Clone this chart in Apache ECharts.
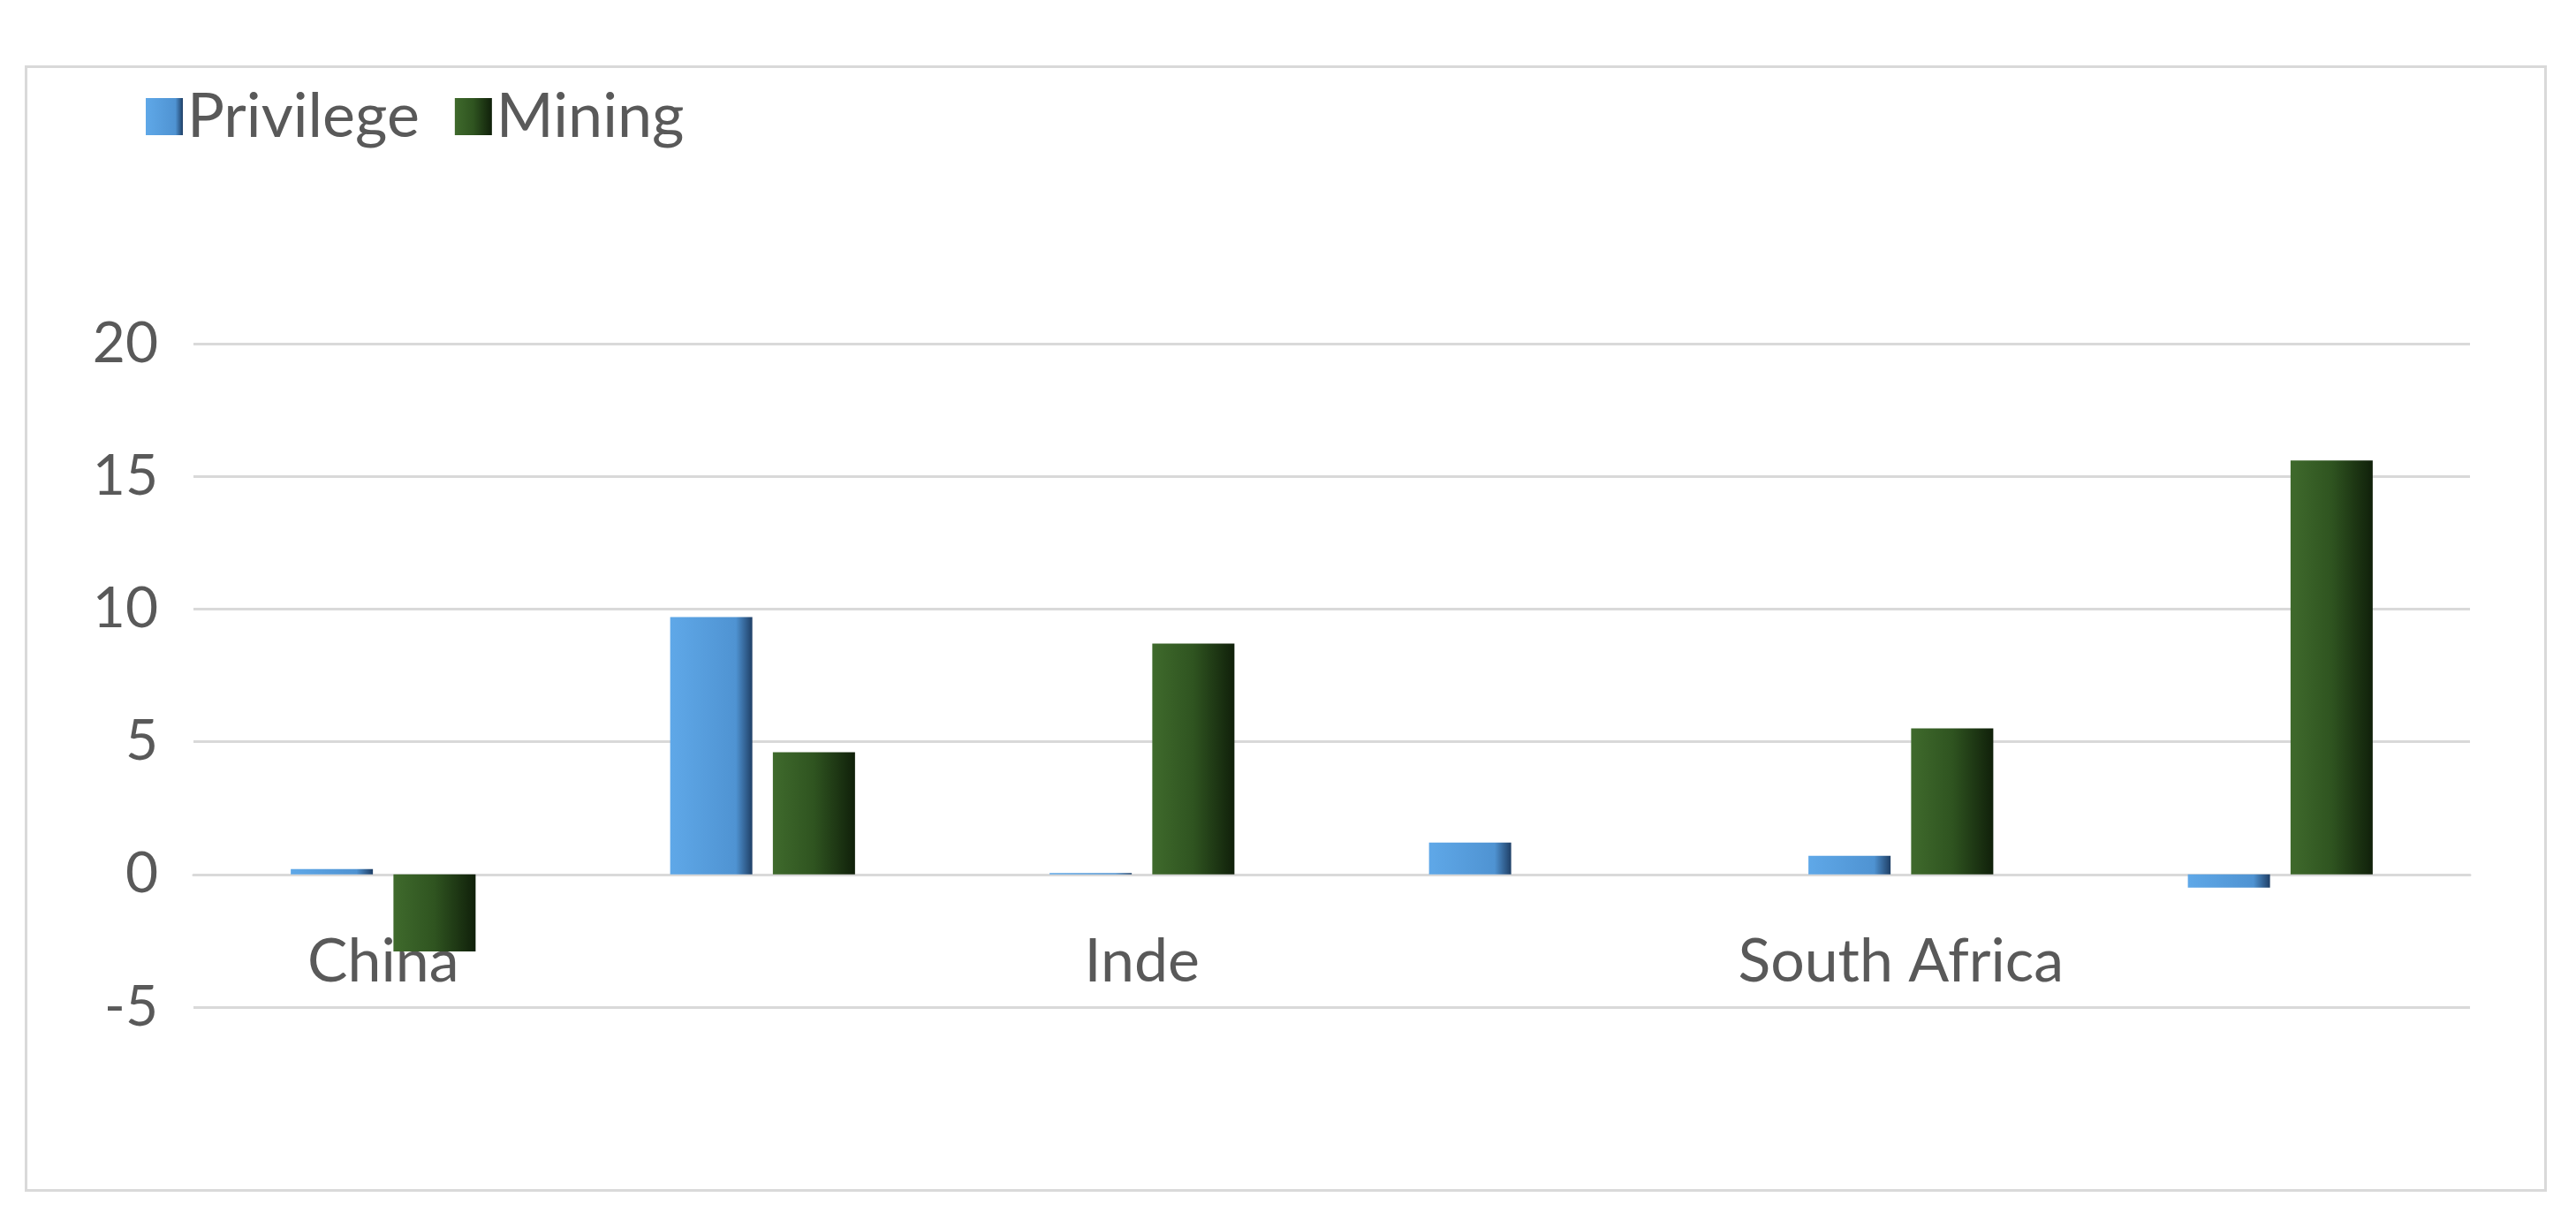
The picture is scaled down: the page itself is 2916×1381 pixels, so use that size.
<!DOCTYPE html>
<html><head><meta charset="utf-8">
<script src="https://cdn.jsdelivr.net/npm/echarts@6/dist/echarts.min.js"></script>
<style>html,body{margin:0;background:#fff}#c{width:2916px;height:1381px}
#box{position:absolute;left:28px;top:74px;width:2855px;height:1275px;border:3px solid #d9d9d9;box-sizing:border-box}</style>
</head><body><div id="box"></div><div id="c"></div>
<script>
const categories = ['China', 'Japan', 'Inde', 'Congo', 'South Africa', 'Mali'];
const privilege = [0.2, 9.7, 0.05, 1.2, 0.7, -0.5];
const mining = [-2.9, 4.6, 8.7, 0, 5.5, 15.6];
const yTicks = [-5, 0, 5, 10, 15, 20];

const grad = (a, b) => ({type: 'linear', x: 0, y: 0, x2: 1, y2: 0,
  colorStops: [{offset: 0, color: a}, {offset: 0.5, color: b}, {offset: 1, color: '#10200a'}]});
const blue = {type: 'linear', x: 0, y: 0, x2: 1, y2: 0,
  colorStops: [{offset: 0, color: '#5fa8e8'}, {offset: 0.8, color: '#4f93d2'}, {offset: 1, color: '#1f3f66'}]};
const green = grad('#3f6a2c', '#2f5420');

const chart = echarts.init(document.getElementById('c'));
chart.setOption({
  textStyle: {fontFamily: 'Lato'},
  legend: {left: 160, top: 92, itemWidth: 42, itemHeight: 42, itemGap: 40,
    textStyle: {fontSize: 70, color: '#595959', fontFamily: 'Lato'},
    data: [{name: 'Privilege', icon: 'rect'}, {name: 'Mining', icon: 'rect'}]},
  grid: {left: 219, right: 120, top: 389, bottom: 241},
  xAxis: {type: 'category', data: categories,
    axisLine: {onZero: true, lineStyle: {color: '#d9d9d9', width: 3}},
    axisTick: {show: false},
    axisLabel: {fontSize: 68, color: '#595959', margin: -85}},
  yAxis: {type: 'value', min: -5, max: 20, interval: 5,
    axisLabel: {fontSize: 64, color: '#595959', margin: 40,
      formatter: v => yTicks.includes(v) ? String(v) : ''},
    splitLine: {lineStyle: {color: '#d9d9d9', width: 3}}},
  series: [
    {name: 'Privilege', type: 'bar', data: privilege, barWidth: 93, barGap: '25%',
      itemStyle: {color: blue}},
    {name: 'Mining', type: 'bar', data: mining, barWidth: 93,
      itemStyle: {color: green}}
  ]
});
</script></body></html>
